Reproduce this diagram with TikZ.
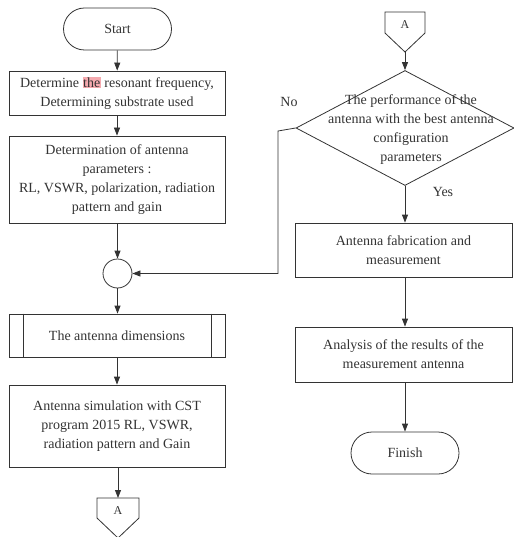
\documentclass[tikz,border=0pt]{standalone}
\usepackage{fontspec}
\setmainfont{Liberation Serif}
\usetikzlibrary{shapes.geometric,arrows.meta}
\definecolor{ink}{gray}{0.2}
\definecolor{hl}{RGB}{245,170,175}
\begin{document}
\begin{tikzpicture}[x=1pt,y=-1pt,
  every node/.style={font=\fontsize{14}{19}\selectfont, text=ink, align=center},
  line/.style={draw=ink, line width=0.8pt},
  arr/.style={line, -{Triangle[length=8pt,width=6pt]}},
  procbox/.style={line, rectangle, inner sep=0pt, minimum width=216pt},
  term/.style={line, rectangle, rounded corners=21pt, inner sep=0pt, minimum width=108pt, minimum height=42pt}]
\useasboundingbox (0,0) rectangle (513,537);
% left column
\node[term] (start) at (117.5,29) {Start};
\node[procbox, minimum height=44pt] (b1) at (117,93) {Determine {\setlength{\fboxsep}{0.6pt}\colorbox{hl}{the}} resonant frequency,\\Determining substrate used};
\node[procbox, minimum height=87pt] (b2) at (117,179.5) {Determination of antenna\\parameters :\\RL, VSWR, polarization, radiation\\pattern and gain};
\node[line, circle, minimum size=29pt, inner sep=0pt] (join) at (117.5,273.5) {};
\node[procbox, minimum height=43pt] (sub) at (117,335.5) {The antenna dimensions};
\draw[line] ([xshift=15pt]sub.north west) -- ([xshift=15pt]sub.south west);
\draw[line] ([xshift=-14pt]sub.north east) -- ([xshift=-14pt]sub.south east);
\node[procbox, minimum height=82pt] (b3) at (117,426) {Antenna simulation with CST\\program 2015 RL, VSWR,\\radiation pattern and Gain};
\coordinate (Ab) at (118,498);
\draw[line] (97,498) -- (139,498) -- (139,518) -- (118,538) -- (97,518) -- cycle;
\node[font=\fontsize{12}{14}\selectfont] (Albl) at (118,511) {A};
% right column
\coordinate (At) at (405,52);
\draw[line] (385,12) -- (425,12) -- (425,33) -- (405,52) -- (385,33) -- cycle;
\node[font=\fontsize{12}{14}\selectfont] (Atlbl) at (405,25) {A};
\node[line, diamond, minimum width=218pt, minimum height=115pt, inner sep=0pt] (dec) at (405,128) {};
\node (dectxt) at (411,130) {The performance of the\\antenna with the best antenna\\configuration\\parameters};
\node (no) at (289,102) {No};
\node (yes) at (443,192) {Yes};
\node[procbox, minimum width=217pt, minimum height=54pt] (b4) at (403.5,250) {Antenna fabrication and\\measurement};
\node[procbox, minimum width=217pt, minimum height=55pt] (b5) at (403.5,354.5) {Analysis of the results of the\\measurement antenna};
\node[term] (finish) at (405,453) {Finish};
\coordinate (turn1) at (278,131);
\coordinate (turn2) at (278,273.5);
% connectors
\draw[arr] (start) -- (b1);
\draw[arr] (b1) -- (b2);
\draw[arr] (b2.south -| join) -- (join);
\draw[arr] (join) -- (sub.north -| join);
\draw[arr] (sub) -- (b3);
\draw[arr] (b3.south -| Ab) -- (Ab);
\draw[arr] (At) -- (dec.north);
\draw[arr] (dec.south) -- (b4.north -| dec.south);
\draw[arr] (b4.south -| dec.south) -- (b5.north -| dec.south);
\draw[arr] (b5.south -| finish) -- (finish);
\draw[arr] (dec.west) -- (turn1) -- (turn2) -- (join.east);
\end{tikzpicture}
\end{document}
